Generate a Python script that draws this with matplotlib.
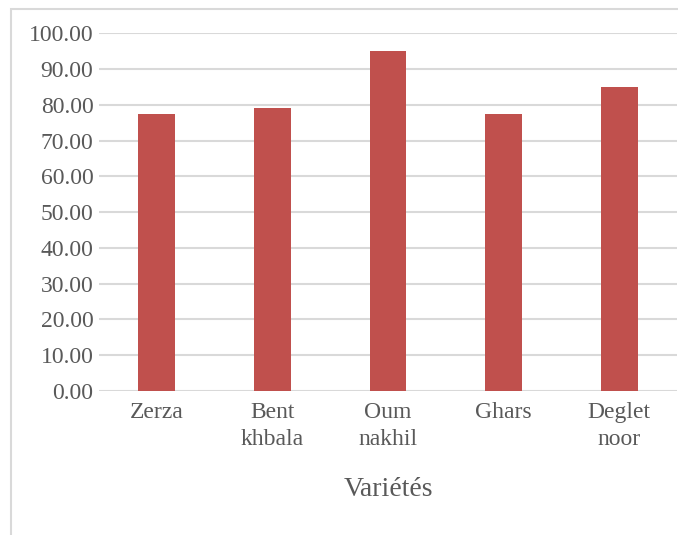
import matplotlib
matplotlib.use("Agg")
import matplotlib.pyplot as plt
from matplotlib.patches import Rectangle

# taux par variété
varietes = ["Zerza", "Bent\nkhbala", "Oum\nnakhil", "Ghars", "Deglet\nnoor"]
valeurs = [77.5, 79.2, 95.1, 77.5, 85.0]
yticks = [0, 10, 20, 30, 40, 50, 60, 70, 80, 90, 100]

plt.rcParams['font.family'] = ['Liberation Serif', 'DejaVu Serif']
gris = '#595959'

fig = plt.figure(figsize=(6.78, 5.35), dpi=100)
# cadre du graphique
fig.patches.append(Rectangle((11/678, -0.1), 1.2, 1 - 9/535 + 0.1,
                             transform=fig.transFigure, fill=False,
                             edgecolor='#d9d9d9', linewidth=1.5))

ax = fig.add_axes([99/678, 1 - 391/535, 578/678, (391 - 33.3)/535])
x = range(len(varietes))
ax.bar(x, valeurs, width=0.32, color='#c0504d', zorder=3)
ax.set_xlim(-0.5, len(varietes) - 0.5)
ax.set_ylim(0, 100)
ax.set_yticks(yticks)
ax.set_yticklabels([f"{v:.2f}" for v in yticks], fontsize=17, color=gris)
ax.set_xticks(list(x))
ax.set_xticklabels(varietes, fontsize=17, color=gris, linespacing=1.35)
ax.tick_params(length=0, pad=4)
ax.tick_params(axis='x', pad=8)
ax.grid(axis='y', color='#d9d9d9', linewidth=1.5, zorder=0)
ax.set_axisbelow(True)
for s in ax.spines.values():
    s.set_visible(False)
ax.set_xlabel("Variétés", fontsize=20, color=gris, labelpad=20)

fig.savefig("out.png", dpi=100)
